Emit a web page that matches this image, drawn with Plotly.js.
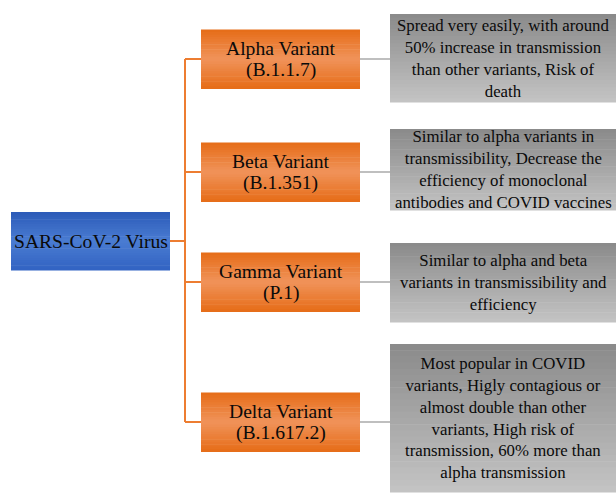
<!DOCTYPE html>
<html>
<head>
<meta charset="utf-8">
<script src="https://cdn.plot.ly/plotly-3.0.1.min.js"></script>
<style>html,body{margin:0;padding:0;background:#fff;}#chart{width:616px;height:494px;}</style>
</head>
<body>
<div id="chart"></div>
<script>
// ---- data ----
const rootLabel = "SARS-CoV-2 Virus";
const variantNames = ["Alpha Variant", "Beta Variant", "Gamma Variant", "Delta Variant"];
const variantLineages = ["(B.1.1.7)", "(B.1.351)", "(P.1)", "(B.1.617.2)"];
const descriptions = [
  "Spread very easily, with around<br>50% increase in transmission<br>than other variants, Risk of<br>death",
  "Similar to alpha variants in<br>transmissibility, Decrease the<br>efficiency of monoclonal<br>antibodies and COVID vaccines",
  "Similar to alpha and beta<br>variants in transmissibility and<br>efficiency",
  "Most popular in COVID<br>variants, Higly contagious or<br>almost double than other<br>variants, High risk of<br>transmission, 60% more than<br>alpha transmission"
];

// ---- layout (positions / sizes / styles) ----
const W = 616, H = 494;
const root = {x0: 11, x1: 170, y0: 212, y1: 270};
const trunkX = 185;
const varX0 = 201, varX1 = 360, varH = 59;
const branchY = [59, 172, 282, 422];
const descX0 = 390, descX1 = 616;
const descY = [[14, 102], [129, 210], [243, 322], [344, 492]];
const FONT = "Liberation Serif, Times New Roman, serif";

function hex(c){return [parseInt(c.slice(1,3),16),parseInt(c.slice(3,5),16),parseInt(c.slice(5,7),16)];}
function mix(a,b,t){const A=hex(a),B=hex(b);return "rgb("+A.map((v,i)=>Math.round(v+(B[i]-v)*t)).join(",")+")";}

const shapes = [];
function gradRect(x0,x1,y0,y1,stops,n){
  n = n || 24;
  const h = (y1-y0)/n;
  for(let i=0;i<n;i++){
    const t=(i+0.5)/n;
    let k=0; while(k<stops.length-2 && t>stops[k+1][0]) k++;
    const s0=stops[k], s1=stops[k+1];
    const c = mix(s0[1], s1[1], (t-s0[0])/(s1[0]-s0[0]));
    shapes.push({type:"rect", xref:"x", yref:"y", x0:x0, x1:x1, y0:y0+i*h, y1:y0+(i+1)*h+0.6,
      fillcolor:c, line:{width:0}, layer:"below"});
  }
}
function line(x0,y0,x1,y1,color,w){
  shapes.push({type:"line", xref:"x", yref:"y", x0:x0, y0:y0, x1:x1, y1:y1, line:{color:color, width:w}, layer:"above"});
}

const orangeStops = [[0,"#E66C17"],[0.5,"#F0935A"],[1,"#E66C17"]];
const blueStops = [[0,"#2C5BB8"],[0.5,"#4A7CD2"],[1,"#3263C2"]];
const grayStops = [[0,"#8A8A8A"],[1,"#C4C4C4"]];

line(root.x1, (root.y0+root.y1)/2, trunkX, (root.y0+root.y1)/2, "#ED7D31", 2);
line(trunkX, branchY[0], trunkX, branchY[branchY.length-1], "#ED7D31", 2);

gradRect(root.x0, root.x1, root.y0, root.y1, blueStops);

const annotations = [];
annotations.push({x:(root.x0+root.x1)/2, y:(root.y0+root.y1)/2, xref:"x", yref:"y", text:rootLabel,
  showarrow:false, font:{family:FONT, size:19.6, color:"#0a0a0a"}});

variantNames.forEach((name,i)=>{
  const yc = branchY[i];
  line(trunkX, yc, varX0, yc, "#ED7D31", 2);
  line(varX1, yc, descX0, yc, "#BFBFBF", 2);
  gradRect(varX0, varX1, yc-varH/2, yc+varH/2, orangeStops);
  annotations.push({x:(varX0+varX1)/2, y:yc-11, xref:"x", yref:"y", text:name, showarrow:false,
    font:{family:FONT, size:19.6, color:"#0a0a0a"}});
  annotations.push({x:(varX0+varX1)/2, y:yc+11, xref:"x", yref:"y", text:variantLineages[i], showarrow:false,
    font:{family:FONT, size:19.6, color:"#0a0a0a"}});
  const [d0,d1] = descY[i];
  gradRect(descX0, descX1, d0, d1, grayStops);
  annotations.push({x:(descX0+descX1)/2, y:(d0+d1)/2, xref:"x", yref:"y", text:descriptions[i], showarrow:false,
    align:"center", font:{family:FONT, size:16.8, color:"#0a0a0a"}});
});

const data = [{x:[0,W], y:[0,H], mode:"markers", marker:{opacity:0}, hoverinfo:"skip", showlegend:false}];
const layout = {
  width: W, height: H, margin:{l:0,r:0,t:0,b:0},
  paper_bgcolor:"#fff", plot_bgcolor:"#fff",
  xaxis:{range:[0,W], visible:false, fixedrange:true},
  yaxis:{range:[H,0], visible:false, fixedrange:true},
  shapes: shapes, annotations: annotations, showlegend:false
};
Plotly.newPlot("chart", data, layout, {displayModeBar:false, staticPlot:true});
</script>
</body>
</html>
